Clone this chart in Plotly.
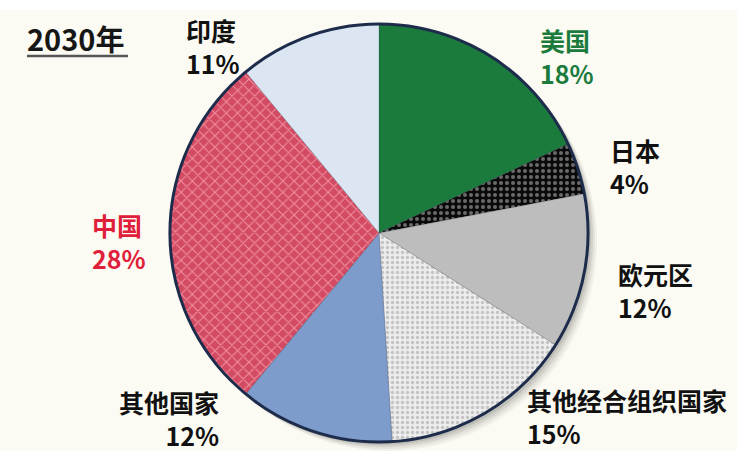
import plotly.graph_objects as go

W, H = 737, 451

categories = ["美国", "日本", "欧元区", "其他经合组织国家", "其他国家", "中国", "印度"]
shares = [18, 4, 12, 15, 12, 28, 11]
title_text = "2030年"

colors = ["#1B7B3D", "#0A0A0A", "#BDBDBD", "#EDEDED", "#7D9BCB", "#D24B63", "#DCE6F3"]
pat_shapes = ["", ".", "", ".", "", "x", ""]
pat_fg = ["#1B7B3D", "#6A6A6A", "#BDBDBD", "#C4C4C4", "#7D9BCB", "#F38FA0", "#DCE6F3"]
label_colors = ["#1B7B3D", "#111111", "#111111", "#111111", "#111111", "#E0203A", "#111111"]

# pixel geometry of the pie (layout only)
cx0, cx1 = 170, 588
cy0, cy1 = 24, 442


def dom(dx=0, dy=0):
    return dict(x=[(cx0 + dx) / W, (cx1 + dx) / W],
                y=[1 - (cy1 + dy) / H, 1 - (cy0 + dy) / H])


fig = go.Figure()

# soft shadow layers
for off, a in [(9, 0.05), (7, 0.07), (5, 0.10), (3, 0.12)]:
    fig.add_trace(go.Pie(values=[sum(shares)], labels=["s"], domain=dom(off, off),
                         marker=dict(colors=[f"rgba(60,60,60,{a})"], line=dict(width=0)),
                         textinfo="none", hoverinfo="skip", showlegend=False, sort=False))

fig.add_trace(go.Pie(
    values=shares, labels=categories, domain=dom(),
    sort=False, direction="clockwise", rotation=0,
    marker=dict(colors=colors,
                line=dict(color="rgba(40,50,70,0.35)", width=0.6),
                pattern=dict(shape=pat_shapes, fgcolor=pat_fg, bgcolor=colors,
                             size=[6, 6, 6, 5, 6, 8, 6], solidity=[0.3, 0.35, 0.3, 0.35, 0.3, 0.25, 0.3])),
    textinfo="none", showlegend=False,
))

# outer border
fig.add_trace(go.Pie(values=[1], labels=["b"], domain=dom(),
                     marker=dict(colors=["rgba(0,0,0,0)"], line=dict(color="#1E2C4C", width=3)),
                     textinfo="none", hoverinfo="skip", showlegend=False))

# label placement (px): x, centre y of the two-line block, anchor
label_pos = {
    "美国": (539, 57, "left"),
    "日本": (609, 166, "left"),
    "欧元区": (617, 290, "left"),
    "其他经合组织国家": (526, 416, "left"),
    "其他国家": (220, 418, "right"),
    "中国": (91, 241, "left"),
    "印度": (185, 46, "left"),
}

font_family = "Noto Sans CJK SC, Noto Sans, sans-serif"
for cat, val, col in zip(categories, shares, label_colors):
    x, yc, anc = label_pos[cat]
    fig.add_annotation(x=x / W, y=1 - yc / H, xref="paper", yref="paper",
                       xanchor=anc, yanchor="middle", align=anc, showarrow=False,
                       text=f"<b>{cat}<br>{val}%</b>", borderpad=0,
                       font=dict(family=font_family, size=25, color=col))

fig.add_annotation(x=26 / W, y=1 - 38 / H, xref="paper", yref="paper",
                   xanchor="left", yanchor="middle", showarrow=False, borderpad=0,
                   text=f"<b>{title_text}</b>",
                   font=dict(family=font_family, size=29, color="#161616"))

fig.update_layout(
    width=W, height=H, margin=dict(l=0, r=0, t=0, b=0),
    paper_bgcolor="#FBFBF3", plot_bgcolor="#FBFBF3",
    shapes=[
        dict(type="rect", xref="paper", yref="paper", x0=0, x1=1, y0=1 - 10 / H, y1=1,
             fillcolor="#FFFFFF", line=dict(width=0), layer="below"),
        dict(type="line", xref="paper", yref="paper", x0=27 / W, x1=128 / W,
             y0=1 - 56 / H, y1=1 - 56 / H, line=dict(color="#555555", width=2.5)),
    ],
)

fig.write_html("out.html", config={"displayModeBar": False},
               post_script="document.body.style.margin='0';document.body.style.overflow='hidden';")
